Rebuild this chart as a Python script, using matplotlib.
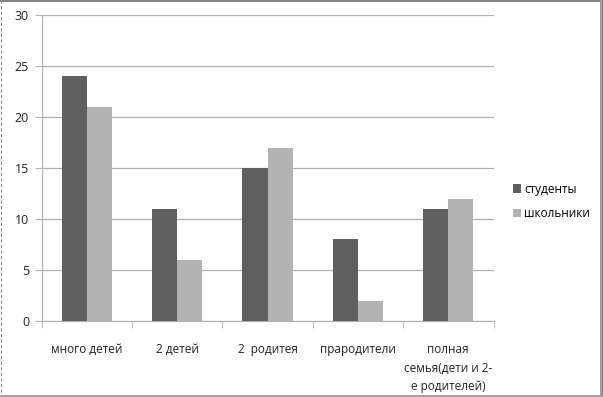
import matplotlib
matplotlib.use("Agg")
import matplotlib.pyplot as plt
import numpy as np
from matplotlib.lines import Line2D

categories = ["много детей", "2 детей", "2  родитея", "прародители", "полная\nсемья(дети и 2-\nе родителей)"]
students = [24, 11, 15, 8, 11]
pupils = [21, 6, 17, 2, 12]
series_names = ["студенты", "школьники"]
yticks = [0, 5, 10, 15, 20, 25, 30]

plt.rcParams['font.family'] = ['Open Sans', 'DejaVu Sans']

W, H = 603, 397
fig = plt.figure(figsize=(W/100, H/100), dpi=100)
fig.patch.set_facecolor("white")

def fl(x0, y0, x1, y1, **kw):
    fig.lines.append(Line2D([x0/W, x1/W], [1-y0/H, 1-y1/H], transform=fig.transFigure, **kw))

# outer frame (Excel-like with shadow)
fl(0, 0.8, 603, 0.8, color="#6a6a6a", lw=1.2)
fl(0.6, 0, 0.6, 397, color="#8a8a8a", lw=0.8, ls=(0, (3, 2)))
fl(600.8, 0, 600.8, 397, color="#a0a0a0", lw=1.4)
fl(602.3, 0, 602.3, 397, color="#808080", lw=0.8)
fl(0, 395.5, 603, 395.5, color="#a0a0a0", lw=1.4)
fl(0, 396.6, 603, 396.6, color="#808080", lw=0.8)

left, right, top, bottom = 41.5, 493.5, 15, 321
ax = fig.add_axes([left/W, 1-bottom/H, (right-left)/W, (bottom-top)/H])

x = np.arange(len(categories))
bw = 0.277
ax.bar(x - bw/2, students, width=bw, color="#5f5f5f", label=series_names[0], zorder=3)
ax.bar(x + bw/2, pupils, width=bw, color="#b3b3b3", label=series_names[1], zorder=3)

ax.set_xlim(-0.5, len(categories)-0.5)
ax.set_ylim(0, 30)
ax.set_yticks(yticks)
ax.yaxis.grid(True, color="#b0b0b0", lw=0.9, zorder=0)
for s in ["top", "right"]:
    ax.spines[s].set_visible(False)
ax.spines["left"].set_color("#b0b0b0")
ax.spines["bottom"].set_color("#b0b0b0")

ax.set_xticks(np.arange(len(categories)+1) - 0.5, minor=True)
ax.set_xticks(x)
ax.set_xticklabels(categories, fontsize=8.5, color="#222222", linespacing=1.55, va="top")
ax.tick_params(axis="x", which="major", length=0, pad=16)
ax.tick_params(axis="x", which="minor", length=5, color="#b0b0b0", direction="out")
ax.tick_params(axis="y", length=5, color="#b0b0b0", labelsize=9, pad=4, labelcolor="#222222")

leg = fig.legend(loc="upper left", bbox_to_anchor=(502/W, 1-172/H), frameon=False,
                 fontsize=8.5, handlelength=0.7, handleheight=0.7, handletextpad=0.3,
                 labelspacing=1.0)

fig.savefig("out.png", dpi=100)
